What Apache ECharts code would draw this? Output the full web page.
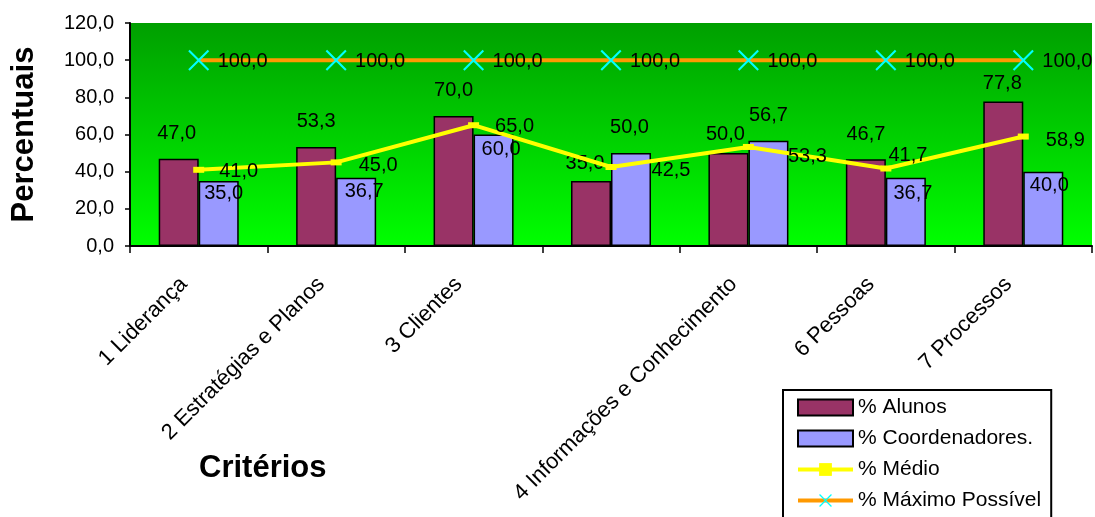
<!DOCTYPE html>
<html>
<head>
<meta charset="utf-8">
<script src="https://cdn.jsdelivr.net/npm/echarts@6/dist/echarts.min.js"></script>
<style>
html,body{margin:0;padding:0;background:#fff;}
#chart{width:1095px;height:517px;}
</style>
</head>
<body>
<div id="chart"></div>
<script>
// ---- data ----
var categories = ["1 Liderança", "2 Estratégias e Planos", "3 Clientes", "", "4 Informações e Conhecimento", "6 Pessoas", "7 Processos"];
var alunos = [47.0, 53.3, 70.0, 35.0, 50.0, 46.7, 77.8];
var coordenadores = [35.0, 36.7, 60.0, 50.0, 56.7, 36.7, 40.0];
var medio = [41.0, 45.0, 65.0, 42.5, 53.3, 41.7, 58.9];
var maximo = [100.0, 100.0, 100.0, 100.0, 100.0, 100.0, 100.0];
var yTicks = [0, 20, 40, 60, 80, 100, 120];

// ---- label placement (layout, not data) ----
var offAlunos = [[-2,-15],[0,-15.5],[0,-15],[-6,-7.5],[-3,-8.5],[0,-14.5],[-1,-8]];
var offCoord = [[5,22.5],[8,23.7],[7.5,25],[-1.5,-15.5],[0,-15],[7,25.7],[6,23.5]];
var offMedio = [[40,2],[42,3],[41,1],[60,3],[59,10],[22,-13],[42,3.5]];
var offMax = [44,1];

function fmt(v){ return Number(v).toFixed(1).replace('.', ','); }
function withOffsets(vals, offs){
  return vals.map(function(v, i){
    return { value: v, label: { offset: Array.isArray(offs[0]) ? offs[i] : offs } };
  });
}

var FONT = 'Liberation Sans, Arial, sans-serif';
var labelBase = { show: true, color: '#000', fontSize: 20, fontFamily: FONT,
  formatter: function(p){ return fmt(p.value); } };

var xSymbol = 'path://M0,1.4L1.4,0L20,18.6L18.6,20Z M18.6,0L20,1.4L1.4,20L0,18.6Z';

var chart = echarts.init(document.getElementById('chart'), null, {renderer: 'canvas'});
chart.setOption({
  animation: false,
  textStyle: { fontFamily: FONT, color: '#000' },
  title: {
    text: 'Critérios', left: 199, top: 453, padding: 0,
    textStyle: { fontSize: 31, fontWeight: 'bold', color: '#000', fontFamily: FONT }
  },
  grid: {
    left: 130, right: 3, top: 23, bottom: 271, show: true, borderWidth: 0,
    backgroundColor: { type: 'linear', x: 0, y: 0, x2: 0, y2: 1,
      colorStops: [{offset: 0, color: '#009f00'}, {offset: 1, color: '#00ff00'}] }
  },
  legend: {
    orient: 'vertical', left: 783, top: 390, height: 160,
    padding: [7, 10, 7, 13], itemGap: 10, itemWidth: 55, itemHeight: 16,
    backgroundColor: '#fff', borderColor: '#000', borderWidth: 2, borderRadius: 0,
    lineStyle: { width: 4 },
    textStyle: { fontSize: 21, color: '#000', fontFamily: FONT, lineHeight: 21 },
    data: [
      { name: '% Alunos', icon: 'rect' },
      { name: '% Coordenadores.', icon: 'rect' },
      { name: '% Médio' },
      { name: '% Máximo Possível' }
    ]
  },
  xAxis: {
    type: 'category', data: categories,
    axisLine: { lineStyle: { color: '#000', width: 2 } },
    axisTick: { show: true, length: 7, lineStyle: { color: '#000', width: 1.5 } },
    axisLabel: { rotate: 45, interval: 0, fontSize: 22, color: '#000', fontFamily: FONT,
      margin: 20, padding: [0, 21, 0, 0] },
    splitLine: { show: false }
  },
  yAxis: {
    type: 'value', min: yTicks[0], max: yTicks[yTicks.length - 1], interval: 20,
    name: 'Percentuais', nameLocation: 'middle', nameGap: 90,
    nameTextStyle: { fontSize: 31, fontWeight: 'bold', color: '#000', fontFamily: FONT },
    axisLine: { show: true, lineStyle: { color: '#000', width: 2 } },
    axisTick: { show: true, length: 5, lineStyle: { color: '#000', width: 1.5 } },
    axisLabel: { fontSize: 20, color: '#000', fontFamily: FONT, margin: 16,
      formatter: function(v){ return fmt(v); } },
    splitLine: { show: false }
  },
  series: [
    {
      name: '% Alunos', type: 'bar', barWidth: 40, barGap: '0%',
      itemStyle: { color: '#993366', borderColor: '#000', borderWidth: 1.5 },
      label: Object.assign({}, labelBase, { position: 'top', distance: 0 }),
      data: withOffsets(alunos, offAlunos), z: 2
    },
    {
      name: '% Coordenadores.', type: 'bar', barWidth: 40, barGap: '0%',
      itemStyle: { color: '#9999ff', borderColor: '#000', borderWidth: 1.5 },
      label: Object.assign({}, labelBase, { position: 'top', distance: 0 }),
      data: withOffsets(coordenadores, offCoord), z: 2
    },
    {
      name: '% Médio', type: 'line', symbol: 'rect', symbolSize: [11, 6],
      lineStyle: { color: '#ffff00', width: 4 },
      itemStyle: { color: '#ffff00' },
      label: Object.assign({}, labelBase, { position: 'inside' }),
      data: withOffsets(medio, offMedio), z: 4
    },
    {
      name: '% Máximo Possível', type: 'line', symbol: xSymbol, symbolSize: 21,
      lineStyle: { color: '#ff9900', width: 4 },
      itemStyle: { color: '#00ffff' },
      label: Object.assign({}, labelBase, { position: 'inside' }),
      data: withOffsets(maximo, offMax), z: 4
    }
  ]
});
</script>
</body>
</html>
